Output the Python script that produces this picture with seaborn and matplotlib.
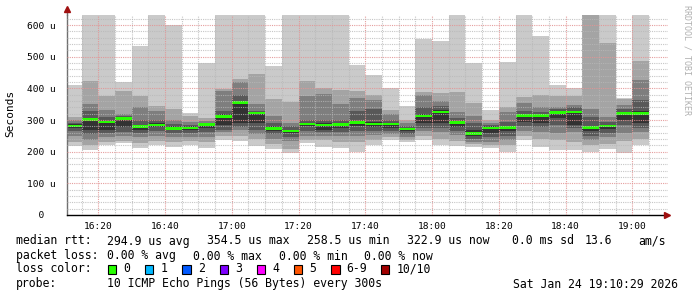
import numpy as np
import pandas as pd
import matplotlib
matplotlib.use("Agg")
import matplotlib.pyplot as plt
from matplotlib.patches import Rectangle
import seaborn as sns

# ---------------- data ----------------
bin_start = ["16:10", "16:15", "16:20", "16:25", "16:30", "16:35", "16:40", "16:45",
             "16:50", "16:55", "17:00", "17:05", "17:10", "17:15", "17:20", "17:25",
             "17:30", "17:35", "17:40", "17:45", "17:50", "17:55", "18:00", "18:05",
             "18:10", "18:15", "18:20", "18:25", "18:30", "18:35", "18:40", "18:45",
             "18:50", "18:55", "19:00"]
# sorted ping rtts (microseconds), ping10 = slowest ... ping1 = fastest
ping10 = [410, 700, 700, 419, 535, 700, 600, 322, 480, 700, 700, 700, 471, 700, 700, 700, 700, 474,
          442, 400, 343, 556, 550, 700, 479, 332, 484, 700, 565, 411, 400, 700, 700, 371, 700]
ping9 = [310, 424, 377, 393, 377, 345, 335, 312, 306, 398, 429, 446, 367, 356, 423, 400, 395, 392,
         378, 332, 300, 390, 384, 389, 354, 300, 342, 374, 379, 377, 376, 700, 544, 365, 486]
ping8 = [300, 351, 333, 320, 340, 330, 300, 295, 298, 392, 419, 352, 314, 290, 376, 382, 351, 370,
         364, 319, 290, 380, 360, 326, 314, 292, 326, 353, 342, 342, 348, 334, 311, 347, 426]
ping7 = [292, 328, 310, 312, 300, 300, 288, 285, 292, 330, 380, 330, 290, 280, 300, 300, 300, 330,
         336, 300, 282, 342, 345, 305, 290, 285, 295, 330, 325, 335, 340, 310, 295, 335, 363]
ping6 = [287, 306, 298, 308, 285, 290, 280, 280, 289, 318, 360, 325, 280, 270, 292, 290, 290, 298,
         295, 292, 276, 318, 332, 296, 270, 280, 282, 320, 318, 328, 330, 282, 285, 325, 330]
ping5 = [276, 270, 270, 278, 270, 278, 268, 268, 275, 285, 290, 290, 266, 258, 280, 270, 275, 280,
         278, 275, 265, 290, 290, 278, 250, 260, 265, 295, 290, 305, 285, 265, 272, 300, 290]
ping4 = [265, 255, 260, 262, 258, 265, 258, 258, 262, 270, 278, 270, 255, 248, 265, 262, 262, 265,
         265, 265, 255, 275, 275, 265, 240, 245, 250, 280, 278, 285, 275, 250, 260, 285, 275]
ping3 = [250, 237, 245, 250, 245, 250, 245, 248, 248, 262, 268, 255, 240, 235, 250, 250, 250, 250,
         252, 255, 245, 265, 262, 252, 232, 232, 238, 265, 262, 260, 262, 238, 245, 260, 262]
ping2 = [232, 222, 232, 235, 228, 235, 232, 235, 230, 250, 250, 240, 225, 210, 238, 238, 232, 230,
         238, 245, 238, 250, 240, 235, 225, 222, 222, 250, 240, 238, 230, 222, 225, 235, 240]
ping1 = [217, 205, 222, 226, 212, 220, 216, 222, 212, 238, 233, 217, 207, 196, 226, 216, 211, 198,
         220, 237, 231, 238, 221, 218, 216, 211, 198, 236, 216, 205, 205, 200, 207, 197, 221]
median_rtt = [281, 302, 294, 305, 280, 285, 274, 275, 286, 312, 356, 322, 274, 266, 288, 285, 286, 292,
              288, 287, 272, 313, 326, 292, 258, 275, 277, 315, 314, 324, 326, 276, 281, 321, 321]

y_ticks = [0, 100, 200, 300, 400, 500, 600]
y_tick_labels = ["  0  ", "100 u", "200 u", "300 u", "400 u", "500 u", "600 u"]
x_tick_labels = ["16:20", "16:40", "17:00", "17:20", "17:40", "18:00", "18:20", "18:40", "19:00"]

loss_labels = ["0", "1", "2", "3", "4", "5", "6-9", "10/10"]
loss_colors = ["#26ff00", "#00b8ff", "#0059ff", "#7e00ff", "#ff00ff", "#ff5500", "#ff0000", "#a10000"]

# ---------------- styling ----------------
sns.set_theme(style="white")
MONO = ["DejaVu Sans Mono"]
plt.rcParams["font.family"] = MONO

W, H = 697, 297
fig = plt.figure(figsize=(W / 100, H / 100), dpi=100)
fig.patch.set_facecolor("white")
L, R, B, T = 67, 668, 215, 15
ax = fig.add_axes([L / W, 1 - B / H, (R - L) / W, (B - T) / H])
ax.set_facecolor("white")


def to_min(s):
    h, m = s.split(":")
    return int(h) * 60 + int(m)


df = pd.DataFrame({"t": [to_min(s) for s in bin_start],
                   "p1": ping1, "p2": ping2, "p3": ping3, "p4": ping4, "p5": ping5,
                   "p6": ping6, "p7": ping7, "p8": ping8, "p9": ping9, "p10": ping10,
                   "median": median_rtt})

# smoke: pairs of pings from outside to inside, getting darker
smoke_cols = ["#cacaca", "#a4a4a4", "#7e7e7e", "#585858", "#323232"]
for i, col in enumerate(smoke_cols, start=1):
    lo = df[f"p{i}"]
    hi = df[f"p{11 - i}"]
    ax.bar(df["t"], hi - lo, bottom=lo, width=5, align="edge", color=col,
           linewidth=0, zorder=1 + i * 0.01)

# median band
half = 4.0
ax.bar(df["t"], 2 * half, bottom=df["median"] - half, width=5, align="edge",
       color=loss_colors[0], linewidth=0, zorder=1.5)

x0, x1 = 970.65, 1150.65
ax.set_xlim(x0, x1)
ax.set_ylim(0, 632)

ax.set_yticks(y_ticks)
ax.set_yticklabels(y_tick_labels)
ax.set_yticks(np.arange(0, 632, 20), minor=True)
xt = [to_min(s) for s in x_tick_labels]
ax.set_xticks(xt)
ax.set_xticklabels(x_tick_labels)
ax.set_xticks(np.arange(975, 1150, 5), minor=True)

ax.grid(which="minor", color="#b8b8b8", linestyle=(0, (1, 1)), linewidth=0.8, alpha=0.8)
ax.grid(which="major", color="#e39494", linestyle=(0, (1, 1)), linewidth=0.8, alpha=0.9)
ax.set_axisbelow(False)

for sp in ["top", "right"]:
    ax.spines[sp].set_visible(False)
ax.spines["left"].set_color("#707070")
ax.spines["left"].set_linewidth(1.0)
ax.spines["bottom"].set_color("#000000")
ax.spines["bottom"].set_linewidth(1.0)

ax.tick_params(axis="both", which="major", direction="inout", length=4, width=0.8,
               colors="#606060", labelcolor="#000000", labelsize=6.8)
ax.tick_params(axis="both", which="minor", direction="inout", length=2.5, width=0.6,
               colors="#909090")
ax.tick_params(axis="x", which="major", pad=3)
ax.tick_params(axis="y", which="major", pad=6)
for lab in ax.get_xticklabels() + ax.get_yticklabels():
    lab.set_family(MONO)

# arrows
ax.plot([x0, x0], [632, 648], color="#707070", lw=1.0, clip_on=False, zorder=5)
ax.plot([x0], [650], marker="^", color="#a01010", markersize=4.5, clip_on=False, zorder=6)
ax.plot([x1 - 0.3], [0], marker=">", color="#a01010", markersize=4.5, clip_on=False, zorder=6)

# axis title and watermark
fig.text(10 / W, 1 - 113 / H, "Seconds", rotation=90, ha="center", va="center",
         fontsize=8, family=MONO, color="#000000")
fig.text(687 / W, 1 - 60 / H, "RRDTOOL / TOBI OETIKER", rotation=270, ha="center",
         va="center", fontsize=6, family=MONO, color="#b0b0b0")

FS = 8.3


def ftext(x, y, s, **kw):
    fig.text(x / W, 1 - y / H, s, ha="left", va="center", fontsize=FS, family=MONO,
             color="#000000", **kw)


y1, y2, y3, y4 = 241, 256, 269, 284
ftext(16, y1, "median rtt:")
ftext(107, y1, "294.9 us avg")
ftext(207, y1, "354.5 us max")
ftext(307, y1, "258.5 us min")
ftext(407, y1, "322.9 us now")
ftext(511.5, y1, "0.0 ms sd")
ftext(584.5, y1, "13.6")
ftext(638.5, y1, "am/s")

ftext(16, y2, "packet loss:")
ftext(107, y2, "0.00 % avg")
ftext(193, y2, "0.00 % max")
ftext(278.7, y2, "0.00 % min")
ftext(364, y2, "0.00 % now")

ftext(16, y3, "loss color:")
box_x = [107.6, 144.9, 182.2, 219.6, 256.9, 293.8, 331.1, 380.9]
for bx, lab, colr in zip(box_x, loss_labels, loss_colors):
    fig.patches.append(Rectangle((bx / W, 1 - (y3 + 4.5) / H), 8.5 / W, 9 / H,
                                 transform=fig.transFigure, facecolor=colr,
                                 edgecolor="#000000", linewidth=0.8))
    ftext(bx + 15.5, y3, lab)

ftext(16, y4, "probe:")
ftext(107, y4, "10 ICMP Echo Pings (56 Bytes) every 300s")
ftext(513, y4, "Sat Jan 24 19:10:29 2026")

fig.savefig("out.png", dpi=100, facecolor="white")
